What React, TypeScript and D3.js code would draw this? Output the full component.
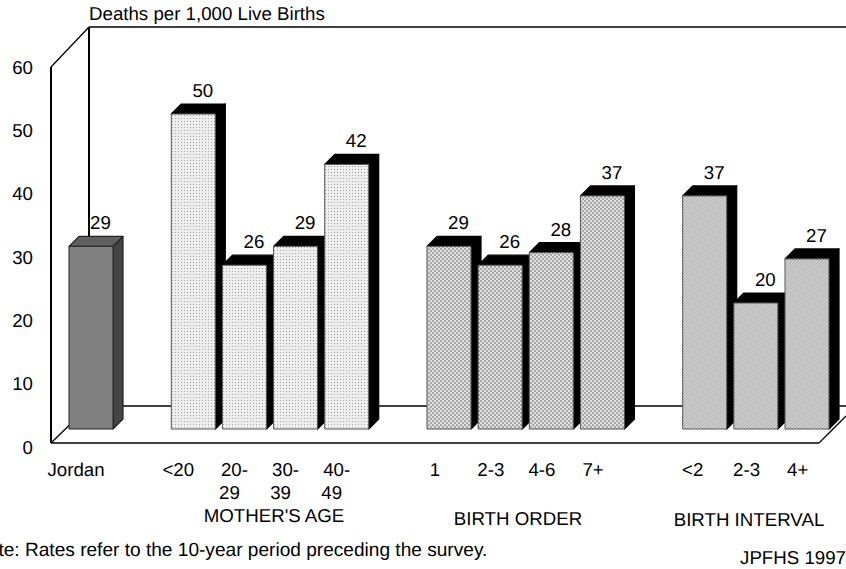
import React from "react";
import * as d3 from "d3";

const groupNames = ["", "MOTHER'S AGE", "BIRTH ORDER", "BIRTH INTERVAL"];
const jordanLabels = [["Jordan"]];
const ageLabels = [["<20"], ["20-", "29"], ["30-", "39"], ["40-", "49"]];
const orderLabels = [["1"], ["2-3"], ["4-6"], ["7+"]];
const intervalLabels = [["<2"], ["2-3"], ["4+"]];
const jordanValues = [29];
const ageValues = [50, 26, 29, 42];
const orderValues = [29, 26, 28, 37];
const intervalValues = [37, 20, 27];
const yTicks = [0, 10, 20, 30, 40, 50, 60];

const W = 846, H = 569;
const FONT = "'Liberation Sans', Arial, sans-serif";
const FS = 18.7;

const slot = d3.scaleLinear().domain([0, 14]).range([69, 785]);
const barY = d3.scaleLinear().domain([0, 50]).range([429, 114]);
const tickY = d3.scaleLinear().domain([0, 60]).range([453.5, 73.5]);
const BW = 44, D = 10;

const groups = [
  { labels: jordanLabels, values: jordanValues, fill: "#808080", top: "#5f5f5f", side: "#444444", title: 0, first: 7, rest: 7 },
  { labels: ageLabels, values: ageValues, fill: "url(#p1)", top: "#000", side: "#000", title: 522, first: 7, rest: 12 },
  { labels: orderLabels, values: orderValues, fill: "url(#p2)", top: "#000", side: "#000", title: 525, first: 8, rest: 12.7 },
  { labels: intervalLabels, values: intervalValues, fill: "url(#p3)", top: "#000", side: "#000", title: 526, first: 10, rest: 12.7 },
];

const groupTitleX = [0, 274, 518, 749];

export default function App() {
  let s = 0;
  const items = groups.map((g, gi) => {
    const start = s;
    s += g.values.length + 1;
    return { g, gi, start };
  });
  const line = d3.line();
  return (
    <svg width={W} height={H} style={{ position: "absolute", left: 0, top: 0, background: "#fff" }} fontFamily={FONT} fontSize={FS} fill="#000" textRendering="geometricPrecision">
      <defs>
        <pattern id="p1" width="3" height="3" patternUnits="userSpaceOnUse">
          <rect width="3" height="3" fill="#eeeeee" />
          <rect x="1" y="1" width="1" height="1" fill="#a8a8a8" />
        </pattern>
        <pattern id="p2" width="4" height="4" patternUnits="userSpaceOnUse">
          <rect width="4" height="4" fill="#e0e0e0" />
          <rect width="2" height="2" fill="#a8a8a8" />
          <rect x="2" y="2" width="2" height="2" fill="#a8a8a8" />
        </pattern>
        <pattern id="p3" width="3" height="3" patternUnits="userSpaceOnUse">
          <rect width="3" height="3" fill="#cccccc" />
          <path d="M0 3L3 0" stroke="#b4b4b4" strokeWidth="1" />
        </pattern>
      </defs>

      <g fill="none" stroke="#000">
        <path d={line([[89, 27], [W, 27]])!} strokeWidth={1.3} />
        <path d={line([[89, 27], [89, 406]])!} strokeWidth={2} />
        <path d={line([[51, 67], [89, 27]])!} strokeWidth={1.3} />
        <path d={line([[51, 67], [51, 443]])!} strokeWidth={2} />
        <path d={line([[51, 443], [89, 406]])!} strokeWidth={1.3} />
        <path d={line([[89, 406], [W, 406]])!} strokeWidth={1.3} />
        <path d={line([[51, 443], [819, 443]])!} strokeWidth={1.6} />
        <path d={line([[819, 443], [W, 416]])!} strokeWidth={1.3} />
      </g>

      {yTicks.map((t) => (
        <text key={t} x={33} y={tickY(t)} textAnchor="end">{t}</text>
      ))}

      {items.map(({ g, gi, start }) =>
        g.values.map((v, i) => {
          const x = slot(start + i);
          const y = barY(v);
          const b = barY(0);
          return (
            <g key={`${gi}-${i}`} stroke={gi === 0 ? "#222" : "#000"} strokeWidth={1.2} strokeLinejoin="round">
              <path d={line([[x, y], [x + D, y - D], [x + BW + D, y - D], [x + BW, y]])! + "Z"} fill={g.top} />
              <path d={line([[x + BW, y], [x + BW + D, y - D], [x + BW + D, b - D], [x + BW, b]])! + "Z"} fill={g.side} />
              <rect x={x} y={y} width={BW} height={b - y} fill={g.fill} stroke={gi === 0 ? "#222" : "#555"} strokeWidth={1} />
            </g>
          );
        })
      )}

      {items.map(({ g, gi, start }) =>
        g.values.map((v, i) => (
          <text key={`${gi}-${i}`} x={slot(start + i) + 31.5} y={barY(v) - 17} textAnchor="middle">{v}</text>
        ))
      )}

      {items.map(({ g, gi, start }) =>
        g.labels.map((lines, i) => {
          const single = lines.length === 1;
          const base = slot(start + i);
          return lines.map((l, j) => (
            <text key={`${gi}-${i}-${j}`} x={base + (single ? (i > 0 ? g.rest : g.first) : j === 0 ? g.rest : g.first)} y={476 + j * 23} textAnchor="middle">{l}</text>
          ));
        })
      )}

      {groupNames.map((n, i) => n && (
        <text key={n} x={groupTitleX[i]} y={groups[i].title} textAnchor="middle">{n}</text>
      ))}

      <text x={89} y={20}>Deaths per 1,000 Live Births</text>
      <text x={-26} y={556} fontSize={19.1}>Note: Rates refer to the 10-year period preceding the survey.</text>
      <text x={846} y={564} textAnchor="end">JPFHS 1997</text>
    </svg>
  );
}
